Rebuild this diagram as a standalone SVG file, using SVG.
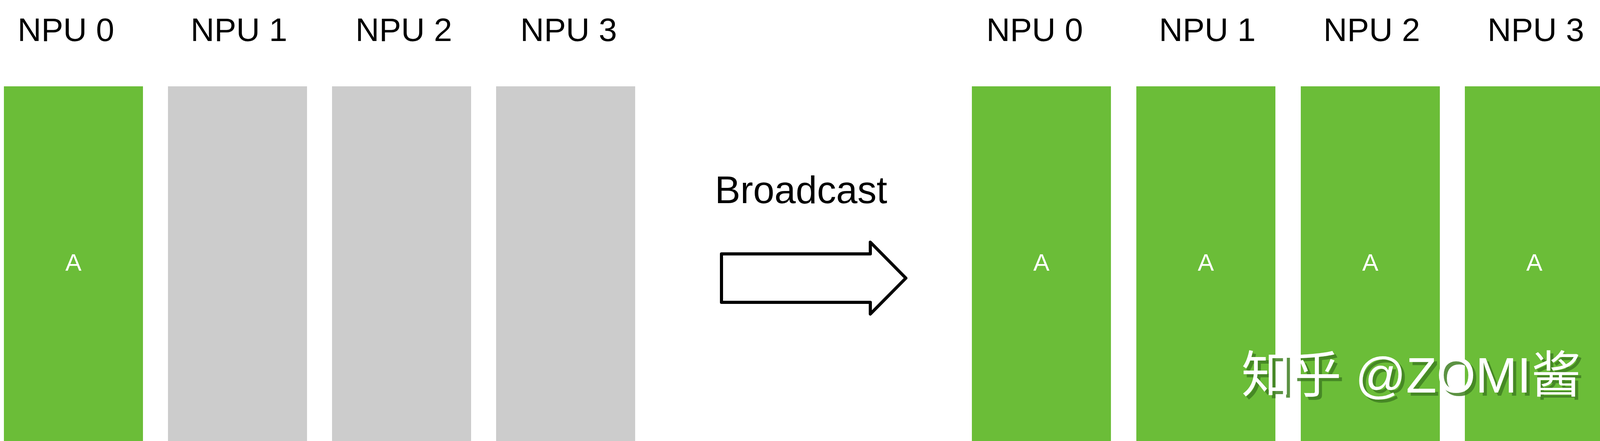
<svg xmlns="http://www.w3.org/2000/svg" width="4108" height="1129" viewBox="0 0 4108 1129">
<style>
.lbl{font-family:"Liberation Sans",Arial,sans-serif;font-size:84px;fill:#000}
.g{fill:#6bbd38}
.e{fill:#cccccc}
.a{font-family:"Liberation Sans",Arial,sans-serif;font-size:62px;fill:#fff;text-anchor:middle}
.wm{font-family:"Liberation Sans","Noto Sans CJK SC",sans-serif;font-size:128px}
</style>
<rect width="4108" height="1129" fill="#fff"/>
<g id="L0"><text class="lbl" x="45" y="105">NPU 0</text><rect class="g" x="10" y="221" width="356" height="908"/><text class="a" x="188" y="693">A</text></g>
<g id="L1"><text class="lbl" x="488" y="105">NPU 1</text><rect class="e" x="430" y="221" width="356" height="908"/></g>
<g id="L2"><text class="lbl" x="910" y="105">NPU 2</text><rect class="e" x="850" y="221" width="356" height="908"/></g>
<g id="L3"><text class="lbl" x="1332" y="105">NPU 3</text><rect class="e" x="1270" y="221" width="356" height="908"/></g>
<g id="R0"><text class="lbl" x="2525" y="105">NPU 0</text><rect class="g" x="2488" y="221" width="356" height="908"/><text class="a" x="2666" y="693">A</text></g>
<g id="R1"><text class="lbl" x="2967" y="105">NPU 1</text><rect class="g" x="2909" y="221" width="356" height="908"/><text class="a" x="3087" y="693">A</text></g>
<g id="R2"><text class="lbl" x="3388" y="105">NPU 2</text><rect class="g" x="3330" y="221" width="356" height="908"/><text class="a" x="3508" y="693">A</text></g>
<g id="R3"><text class="lbl" x="3808" y="105">NPU 3</text><rect class="g" x="3750" y="221" width="356" height="908"/><text class="a" x="3928" y="693">A</text></g>
<g id="connectors">
<text x="1830" y="520" style="font-family:'Liberation Sans',sans-serif;font-size:98px;fill:#000">Broadcast</text>
<path d="M1847 650 H2228 V620 L2319 712 L2228 804 V774 H1847 Z" fill="#fff" stroke="#000" stroke-width="8" stroke-linejoin="round"/>
</g>
<g id="watermark">
<text class="wm" x="3186" y="1013" fill="#3f7f22" fill-opacity="0.85">知乎 @ZOMI酱</text>
<text class="wm" x="3178" y="1005" fill="#fff">知乎 @ZOMI酱</text>
</g>
</svg>
